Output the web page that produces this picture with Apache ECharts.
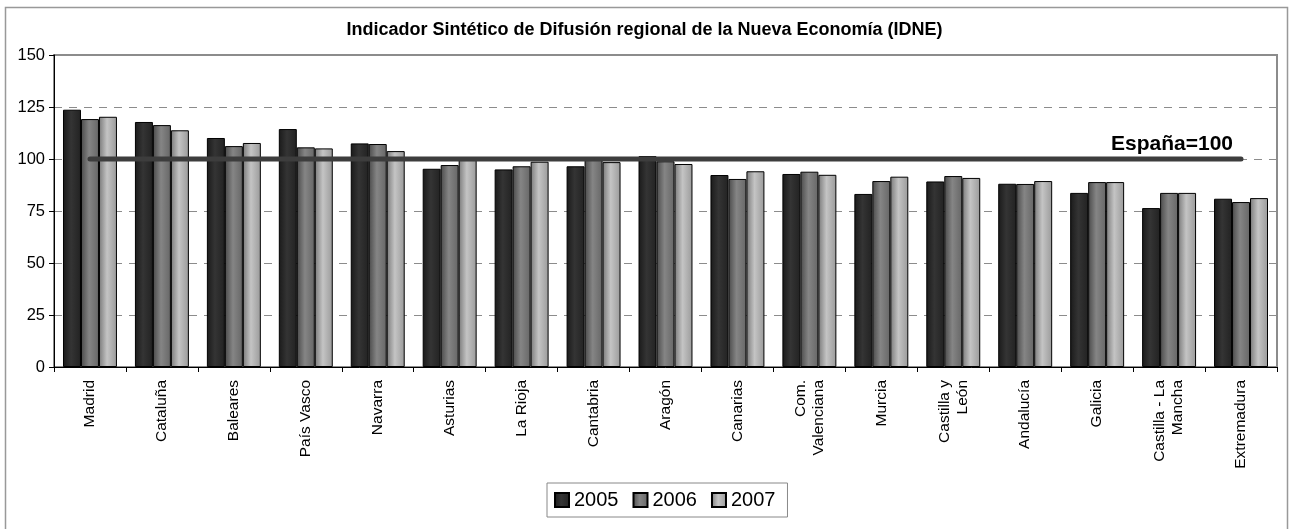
<!DOCTYPE html>
<html>
<head>
<meta charset="utf-8">
<script src="https://cdn.jsdelivr.net/npm/echarts@6/dist/echarts.min.js"></script>
<style>
  html, body { margin: 0; padding: 0; background: #fff; }
  #chart { width: 1289px; height: 529px; }
</style>
</head>
<body>
<div id="chart"></div>
<script>
var regiones = ['Madrid', 'Cataluña', 'Baleares', 'País Vasco', 'Navarra', 'Asturias', 'La Rioja', 'Cantabria', 'Aragón', 'Canarias',
  'Com.\nValenciana', 'Murcia', 'Castilla y\nLeón', 'Andalucía', 'Galicia', 'Castilla - La\nMancha', 'Extremadura'];
var idne2005 = [123.7, 117.8, 110.1, 114.4, 107.5, 95.3, 95.0, 96.5, 101.4, 92.3, 92.8, 83.2, 89.2, 88.1, 83.7, 76.4, 80.9];
var idne2006 = [119.2, 116.3, 106.2, 105.6, 107.2, 97.1, 96.5, 99.9, 98.9, 90.4, 93.9, 89.4, 91.8, 88.0, 88.9, 83.7, 79.3];
var idne2007 = [120.3, 113.8, 107.7, 105.1, 103.8, 99.5, 98.7, 98.5, 97.6, 94.1, 92.4, 91.5, 90.9, 89.4, 88.9, 83.7, 81.2];
var espana = [100, 100, 100, 100, 100, 100, 100, 100, 100, 100, 100, 100, 100, 100, 100, 100, 100];
var yTicks = [0, 25, 50, 75, 100, 125, 150];

var font = 'Liberation Sans, Arial, sans-serif';

// degradado horizontal de cada barra
function grad(edge, mid, right) {
  return {
    type: 'linear', x: 0, y: 0, x2: 1, y2: 0,
    colorStops: [
      { offset: 0, color: edge },
      { offset: 0.45, color: mid },
      { offset: 1, color: right }
    ]
  };
}

var chart = echarts.init(document.getElementById('chart'));
var last = espana.length - 1;

var option = {
  backgroundColor: '#fff',
  animation: false,
  textStyle: { fontFamily: font },
  title: {
    text: 'Indicador Sintético de Difusión regional de la Nueva Economía (IDNE)',
    left: 'center',
    top: 16,
    textStyle: { fontSize: 18, fontWeight: 'bold', color: '#000', fontFamily: font }
  },
  graphic: [{
    type: 'rect',
    left: 3, top: 5,
    shape: { width: 1282, height: 540 },
    style: { fill: 'none', stroke: '#999', lineWidth: 1.5 },
    z: -1
  }],
  legend: {
    data: ['2005', '2006', '2007'],
    icon: 'rect',
    left: 547,
    top: 483,
    padding: [7, 12, 7, 7],
    borderColor: '#888',
    borderWidth: 1,
    itemWidth: 14,
    itemHeight: 14,
    itemGap: 14,
    textStyle: { fontSize: 20, color: '#000', fontFamily: font }
  },
  grid: {
    left: 54, right: 12, top: 55, bottom: 162,
    show: true,
    borderColor: '#8c8c8c',
    borderWidth: 2
  },
  xAxis: {
    type: 'category',
    data: regiones,
    axisLine: { lineStyle: { color: '#000', width: 1 } },
    axisTick: { show: true, length: 5, lineStyle: { color: '#000' } },
    axisLabel: {
      rotate: 90,
      interval: 0,
      margin: 13,
      fontSize: 15.5,
      lineHeight: 18,
      color: '#000',
      fontFamily: font
    }
  },
  yAxis: {
    type: 'value',
    min: yTicks[0],
    max: yTicks[yTicks.length - 1],
    interval: 25,
    axisLine: { show: true, lineStyle: { color: '#000', width: 1 } },
    axisTick: { show: true, length: 5, lineStyle: { color: '#000' } },
    axisLabel: { fontSize: 16.5, color: '#000', margin: 9, fontFamily: font },
    splitLine: { lineStyle: { color: '#8c8c8c', type: [8, 7], width: 1 } }
  },
  series: [
    {
      name: '2005', type: 'bar', data: idne2005,
      barCategoryGap: '25%', barGap: '0%',
      itemStyle: { color: grad('#1a1a1a', '#343434', '#222'), borderColor: '#000', borderWidth: 1 }
    },
    {
      name: '2006', type: 'bar', data: idne2006,
      barGap: '0%',
      itemStyle: { color: grad('#4a4a4a', '#858585', '#666'), borderColor: '#000', borderWidth: 1 }
    },
    {
      name: '2007', type: 'bar', data: idne2007,
      barGap: '0%',
      itemStyle: { color: grad('#7a7a7a', '#c4c4c4', '#9a9a9a'), borderColor: '#000', borderWidth: 1 }
    },
    {
      name: 'España=100', type: 'line', z: 5,
      symbol: 'circle',
      symbolSize: 1,
      showSymbol: true,
      itemStyle: { color: '#3d3d3d' },
      lineStyle: { color: '#3d3d3d', width: 5, cap: 'round' },
      data: espana.map(function (v, i) {
        if (i !== last) return v;
        return {
          value: v,
          label: {
            show: true,
            position: 'top',
            distance: 4,
            offset: [-69, 0],
            formatter: 'España=100',
            fontSize: 21,
            fontWeight: 'bold',
            color: '#000',
            fontFamily: font
          }
        };
      })
    }
  ]
};

chart.setOption(option);
</script>
</body>
</html>
